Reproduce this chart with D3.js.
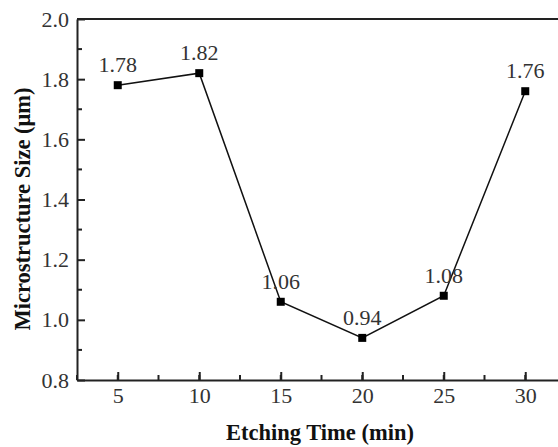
<!DOCTYPE html>
<html>
<head>
<meta charset="utf-8">
<script src="https://cdn.jsdelivr.net/npm/d3@7"></script>
<style>
  body { margin: 0; background: #fff; }
</style>
</head>
<body>
<script>
// data
var times = [5, 10, 15, 20, 25, 30];
var sizes = [1.78, 1.82, 1.06, 0.94, 1.08, 1.76];
var xTicks = [5, 10, 15, 20, 25, 30];
var yTicks = [0.8, 1.0, 1.2, 1.4, 1.6, 1.8, 2.0];

var W = 558, H = 447;
var margin = {top: 19, left: 77, bottom: 67, right: -8};
var serif = "'Liberation Serif'";

var x = d3.scaleLinear().domain([2.5, 32.5]).range([margin.left, W - margin.right]);
var y = d3.scaleLinear().domain([0.8, 2.0]).range([H - margin.bottom, margin.top]);

var svg = d3.select("body").append("svg")
  .attr("width", W).attr("height", H);

function styleNum(sel) {
  sel.attr("font-family", "Liberation Serif")
    .style("font-family", serif)
    .style("font-size", "22px")
    .style("fill", "#333");
}

// minor ticks
var xMinor = d3.range(2.5, 32.6, 2.5);
var yMinor = d3.range(0.9, 2.0, 0.2);

var gx = svg.append("g")
  .attr("transform", "translate(0," + y(0.8) + ")")
  .call(d3.axisBottom(x).tickValues(xTicks).tickSizeInner(-8).tickSizeOuter(0).tickPadding(7));
gx.attr("font-family", "Liberation Serif").attr("font-size", 22);
gx.selectAll("line").attr("stroke", "#222").attr("stroke-width", 2);
gx.select(".domain").attr("stroke", "#222").attr("stroke-width", 2);
gx.selectAll("text").call(styleNum);
gx.selectAll(".minor").data(xMinor).enter().append("line")
  .attr("x1", d => x(d)).attr("x2", d => x(d))
  .attr("y1", 0).attr("y2", -5)
  .attr("stroke", "#222").attr("stroke-width", 2);

var gy = svg.append("g")
  .attr("transform", "translate(" + x(2.5) + ",0)")
  .call(d3.axisLeft(y).tickValues(yTicks).tickFormat(d3.format(".1f")).tickSizeInner(-8).tickSizeOuter(0).tickPadding(8));
gy.attr("font-family", "Liberation Serif").attr("font-size", 22);
gy.selectAll("line").attr("stroke", "#222").attr("stroke-width", 2);
gy.select(".domain").attr("stroke", "#222").attr("stroke-width", 2);
gy.selectAll("text").call(styleNum);
gy.selectAll(".minor").data(yMinor).enter().append("line")
  .attr("x1", 0).attr("x2", 5)
  .attr("y1", d => y(d)).attr("y2", d => y(d))
  .attr("stroke", "#222").attr("stroke-width", 2);

// top border
svg.append("line")
  .attr("x1", x(2.5)).attr("x2", x(32.5))
  .attr("y1", y(2.0)).attr("y2", y(2.0))
  .attr("stroke", "#222").attr("stroke-width", 2);

var pts = times.map((t, i) => ({t: t, v: sizes[i]}));

var line = d3.line().x(d => x(d.t)).y(d => y(d.v));
svg.append("path").datum(pts)
  .attr("fill", "none").attr("stroke", "#111").attr("stroke-width", 1.5)
  .attr("d", line);

svg.selectAll(".pt").data(pts).enter().append("rect")
  .attr("x", d => x(d.t) - 4).attr("y", d => y(d.v) - 4)
  .attr("width", 8).attr("height", 8).attr("fill", "#000");

svg.selectAll(".lbl").data(pts).enter().append("text")
  .attr("class", "lbl")
  .attr("x", d => x(d.t))
  .attr("y", d => y(d.v) - 13)
  .attr("text-anchor", "middle")
  .call(styleNum)
  .text(d => d.v.toFixed(2));

svg.append("text")
  .attr("x", 320).attr("y", 440)
  .attr("text-anchor", "middle")
  .style("font-family", serif).style("font-size", "22.5px")
  .style("font-weight", "bold").style("fill", "#111")
  .text("Etching Time (min)");

svg.append("text")
  .attr("transform", "translate(30,209) rotate(-90)")
  .attr("text-anchor", "middle")
  .style("font-family", serif).style("font-size", "22.5px")
  .style("font-weight", "bold").style("fill", "#111")
  .text("Microstructure Size (μm)");
</script>
</body>
</html>
